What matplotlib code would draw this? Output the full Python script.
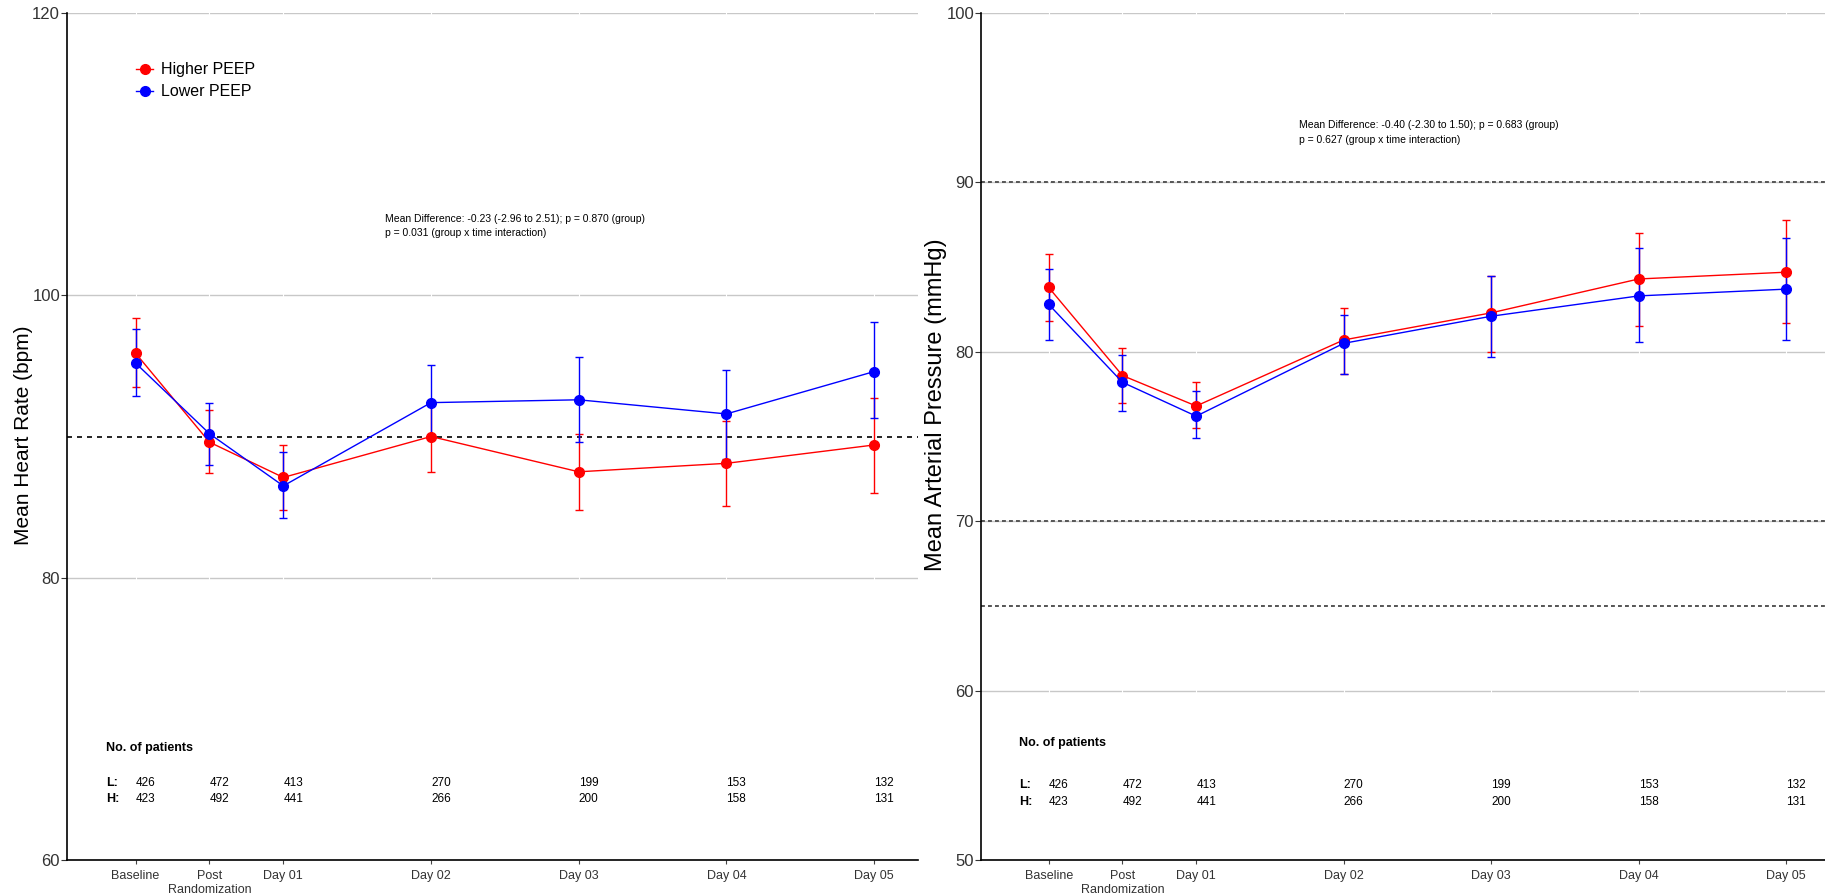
import matplotlib.pyplot as plt
from matplotlib.lines import Line2D

plt.rcParams['font.family'] = ['Liberation Sans', 'DejaVu Sans']

# Time points
time_labels = ['Baseline', 'Post\nRandomization', 'Day 01', 'Day 02', 'Day 03', 'Day 04', 'Day 05']
time_x = [0, 0.5, 1, 2, 3, 4, 5]

# Heart rate (bpm): mean, lower and upper 95% CI
hr_high = [95.9, 89.6, 87.1, 90.0, 87.5, 88.1, 89.4]
hr_high_lo = [93.5, 87.4, 84.8, 87.5, 84.8, 85.1, 86.0]
hr_high_hi = [98.4, 91.9, 89.4, 92.5, 90.2, 91.1, 92.7]
hr_low = [95.2, 90.2, 86.5, 92.4, 92.6, 91.6, 94.6]
hr_low_lo = [92.9, 88.0, 84.2, 89.8, 89.6, 88.4, 91.3]
hr_low_hi = [97.6, 92.4, 88.9, 95.1, 95.6, 94.7, 98.1]

# Mean arterial pressure (mmHg)
map_high = [83.8, 78.6, 76.8, 80.7, 82.3, 84.3, 84.7]
map_high_lo = [81.8, 77.0, 75.5, 78.7, 80.0, 81.5, 81.7]
map_high_hi = [85.8, 80.2, 78.2, 82.6, 84.5, 87.0, 87.8]
map_low = [82.8, 78.2, 76.2, 80.5, 82.1, 83.3, 83.7]
map_low_lo = [80.7, 76.5, 74.9, 78.7, 79.7, 80.6, 80.7]
map_low_hi = [84.9, 79.8, 77.7, 82.2, 84.5, 86.1, 86.7]

# Patients at risk
n_low = [426, 472, 413, 270, 199, 153, 132]
n_high = [423, 492, 441, 266, 200, 158, 131]

RED = '#FF0000'
BLUE = '#0000FF'

fig = plt.figure(figsize=(18.25, 8.96), dpi=100)
ax1 = fig.add_axes([0.03671, 0.04018, 0.4663, 0.9453])
ax2 = fig.add_axes([0.53753, 0.04018, 0.46247, 0.9453])


def style_axis(ax, ylim, yticks, xlim):
    ax.set_xlim(*xlim)
    ax.set_ylim(*ylim)
    ax.set_yticks(yticks)
    ax.set_xticks(time_x)
    ax.set_xticklabels(time_labels, fontsize=9, color='#333333')
    ax.tick_params(axis='y', labelsize=12, colors='#333333', length=4, width=0.8, pad=1)
    ax.tick_params(axis='x', length=3, width=0.8, pad=4, color='#444444')
    for s in ['top', 'right']:
        ax.spines[s].set_visible(False)
    for s in ['left', 'bottom']:
        ax.spines[s].set_linewidth(1.2)
        ax.spines[s].set_color('black')
    for y in yticks:
        ax.axhline(y, color='#C8C8C8', lw=1, zorder=0)
    for x in time_x:
        ax.axvline(x, color='white', lw=0.8, zorder=0.5)


def draw_group(ax, mean, lo, hi, color):
    yerr = [[m - l for m, l in zip(mean, lo)], [h - m for m, h in zip(mean, hi)]]
    ax.errorbar(time_x, mean, yerr=yerr, fmt='-o', color=color, ms=7, lw=1.0,
                elinewidth=1.0, capsize=3.2, capthick=1.0, zorder=3)


def patients_table(ax, y_title, y_l, y_h):
    ax.text(-0.2, y_title, 'No. of patients', fontsize=9, fontweight='bold', va='center')
    ax.text(-0.2, y_l, 'L:', fontsize=9, fontweight='bold', va='center')
    ax.text(-0.2, y_h, 'H:', fontsize=9, fontweight='bold', va='center')
    for x, nl, nh in zip(time_x, n_low, n_high):
        ax.text(x, y_l, str(nl), fontsize=8.5, va='center', ha='left')
        ax.text(x, y_h, str(nh), fontsize=8.5, va='center', ha='left')


# Heart rate panel
style_axis(ax1, (60, 120), [60, 80, 100, 120], (-0.4645, 5.297))
ax1.axhline(90, color='black', lw=1.2, ls=(0, (3, 3)), zorder=1)
draw_group(ax1, hr_high, hr_high_lo, hr_high_hi, RED)
draw_group(ax1, hr_low, hr_low_lo, hr_low_hi, BLUE)
ax1.set_ylabel('Mean Heart Rate (bpm)', fontsize=15)
ax1.yaxis.set_label_coords(-0.040, 0.502)
ax1.text(1.69, 105.4, 'Mean Difference: -0.23 (-2.96 to 2.51); p = 0.870 (group)', fontsize=7.5, va='center')
ax1.text(1.69, 104.4, 'p = 0.031 (group x time interaction)', fontsize=7.5, va='center')
patients_table(ax1, 67.9, 65.45, 64.3)

handles = [Line2D([], [], color=RED, marker='o', ms=7, lw=1.0),
           Line2D([], [], color=BLUE, marker='o', ms=7, lw=1.0)]
ax1.legend(handles, ['Higher PEEP', 'Lower PEEP'], loc='upper left',
           bbox_to_anchor=(0.081, 0.942), frameon=False, fontsize=11.5,
           handlelength=1.1, handletextpad=0.5, labelspacing=0.45,
           borderpad=0, borderaxespad=0)

# Mean arterial pressure panel
style_axis(ax2, (50, 100), [50, 60, 70, 80, 90, 100], (-0.459, 5.263))
for y in [90, 70, 65]:
    ax2.axhline(y, color='#555555', lw=1.4, ls=(0, (2, 1.6)), zorder=1)
draw_group(ax2, map_high, map_high_lo, map_high_hi, RED)
draw_group(ax2, map_low, map_low_lo, map_low_hi, BLUE)
ax2.set_ylabel('Mean Arterial Pressure (mmHg)', fontsize=17)
ax2.yaxis.set_label_coords(-0.040, 0.538)
ax2.text(1.70, 93.38, 'Mean Difference: -0.40 (-2.30 to 1.50); p = 0.683 (group)', fontsize=7.5, va='center')
ax2.text(1.70, 92.5, 'p = 0.627 (group x time interaction)', fontsize=7.5, va='center')
patients_table(ax2, 56.9, 54.4, 53.45)

fig.savefig('out.png', dpi=100)
